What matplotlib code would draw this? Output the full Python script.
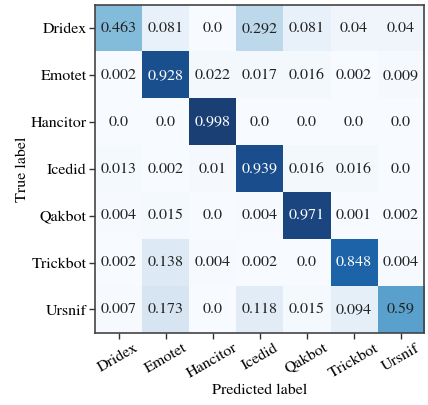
import numpy as np
import matplotlib
matplotlib.use("Agg")
import matplotlib.pyplot as plt

labels = ["Dridex", "Emotet", "Hancitor", "Icedid", "Qakbot", "Trickbot", "Ursnif"]
cm = np.array([
    [0.463, 0.081, 0.0, 0.292, 0.081, 0.04, 0.04],
    [0.002, 0.928, 0.022, 0.017, 0.016, 0.002, 0.009],
    [0.0, 0.0, 0.998, 0.0, 0.0, 0.0, 0.0],
    [0.013, 0.002, 0.01, 0.939, 0.016, 0.016, 0.0],
    [0.004, 0.015, 0.0, 0.004, 0.971, 0.001, 0.002],
    [0.002, 0.138, 0.004, 0.002, 0.0, 0.848, 0.004],
    [0.007, 0.173, 0.0, 0.118, 0.015, 0.094, 0.59],
])

plt.rcParams["font.family"] = ["STIXGeneral", "DejaVu Serif"]
plt.rcParams["mathtext.fontset"] = "stix"

fs = 11.5
fig = plt.figure(figsize=(4.28, 4.05), dpi=100)
ax = fig.add_axes([0.222, 0.178, 0.769, 0.81])
ax.imshow(cm, cmap="Blues", vmin=0, vmax=1, alpha=0.93, aspect="auto")

n = len(labels)
for i in range(n):
    for j in range(n):
        v = cm[i, j]
        ax.text(j, i, f"{v}", ha="center", va="center", fontsize=fs,
                color="white" if v > 0.7 else "#222222")

ax.set_xticks(range(n))
ax.set_yticks(range(n))
ax.set_xticklabels(labels, rotation=30, ha="center", fontsize=fs)
ax.set_yticklabels(labels, fontsize=fs)
ax.set_xlabel("Predicted label", fontsize=fs, labelpad=2)
ax.set_ylabel("True label", fontsize=fs, labelpad=1)
ax.tick_params(length=4, width=1, color="#333333", pad=2)
for s in ax.spines.values():
    s.set_color("#444444")
    s.set_linewidth(1.2)

fig.savefig("out.png", dpi=100)
